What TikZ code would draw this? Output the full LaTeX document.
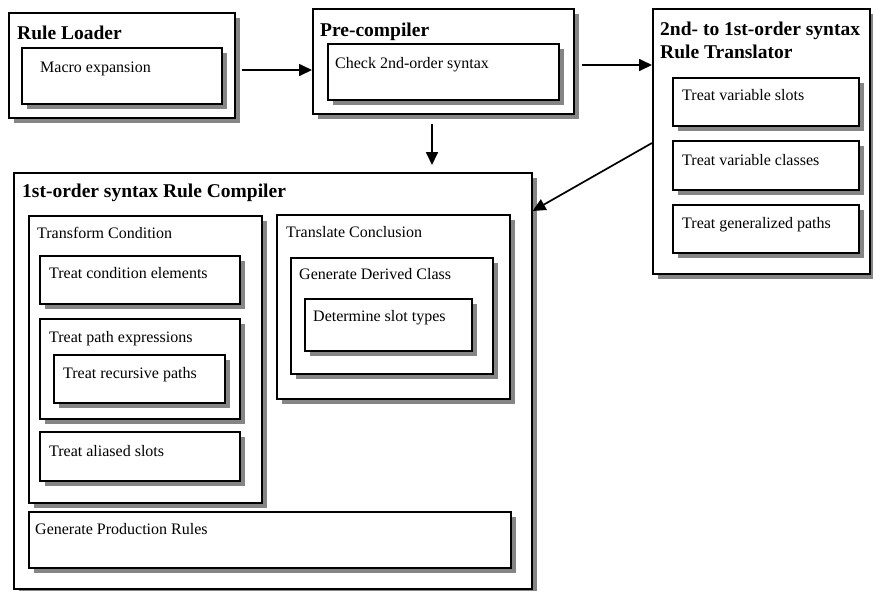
\documentclass[tikz,border=0pt]{standalone}
\usepackage{fontspec}
\setmainfont{Liberation Serif}
\usetikzlibrary{arrows.meta,shadows,calc}
\tikzset{
  box/.style={draw, line width=1.6pt, fill=white, anchor=north west, inner sep=0pt,
    general shadow={fill=black!48, shadow xshift=5pt, shadow yshift=-5pt}},
  lbl/.style={anchor=base west, inner sep=0pt, font=\fontsize{16}{18}\selectfont},
  ttl/.style={anchor=base west, inner sep=0pt, font=\fontsize{19.5}{22}\selectfont\bfseries},
  arr/.style={line width=1.7pt, -{Triangle[length=13pt,width=12pt]}}
}
\newcommand{\bx}[5]{\node[box, minimum width=#4pt, minimum height=#5pt] (#1) at (#2,#3) {};}
\begin{document}
\begin{tikzpicture}[x=1pt,y=-1pt]
\useasboundingbox (0,0) rectangle (873,590);
% top row
\bx{rl}{8}{12}{226}{105}
\bx{me}{21}{47}{200}{56}
\bx{pc}{312}{8}{261}{105}
\bx{ck}{327}{43}{231}{56}
\bx{tr}{652}{8}{217}{265}
\bx{tva}{672}{77}{186}{48}
\bx{tvb}{672}{140}{186}{49}
\bx{tvc}{672}{204}{186}{48}
% compiler
\bx{comp}{13}{172}{518}{416}
\bx{tc}{28}{215}{233}{287}
\bx{tce}{39}{255}{200}{48}
\bx{tpe}{39}{318}{200}{100}
\bx{trp}{53}{354}{171}{48}
\bx{tas}{39}{431}{200}{49}
\bx{tl}{276}{214}{233}{184}
\bx{gdc}{290}{257}{202}{116}
\bx{dst}{304}{298}{167}{52}
\bx{gpr}{28}{511}{482}{56}
% texts
\node[ttl] (trl) at (17,39) {Rule Loader};
\node[lbl] (tme) at (40,72) {Macro expansion};
\node[ttl] (tpc) at (320,36) {Pre-compiler};
\node[lbl] (tck) at (335,68) {Check 2nd-order syntax};
\node[ttl] (ttr1) at (660,35) {2nd- to 1st-order syntax};
\node[ttl] (ttr2) at (660,58) {Rule Translator};
\node[lbl] (ttva) at (682,100) {Treat variable slots};
\node[lbl] (ttvb) at (682,165) {Treat variable classes};
\node[lbl] (ttvc) at (682,228) {Treat generalized paths};
\node[ttl] (tcomp) at (22,197) {1st-order syntax Rule Compiler};
\node[lbl] (ttc) at (37,238) {Transform Condition};
\node[lbl] (ttce) at (49,278) {Treat condition elements};
\node[lbl] (ttpe) at (49,342) {Treat path expressions};
\node[lbl] (ttrp) at (63,378) {Treat recursive paths};
\node[lbl] (ttas) at (49,456) {Treat aliased slots};
\node[lbl] (tgpr) at (35,534) {Generate Production Rules};
\node[lbl] (ttl) at (286,237) {Translate Conclusion};
\node[lbl] (tgdc) at (299,279) {Generate Derived Class};
\node[lbl] (tdst) at (313,321) {Determine slot types};
% connectors
\draw[arr] ([xshift=6pt]rl.east |- 0,70) -- (pc.west |- 0,70);
\draw[arr] ([xshift=7pt]pc.east |- 0,65) -- (tr.west |- 0,65);
\draw[arr] ([yshift=-9pt]pc.south -| 432,0) -- ([yshift=7pt]comp.north -| 432,0);
\draw[arr] (tr.west |- 0,143) -- (comp.east |- 0,211);
\end{tikzpicture}
\end{document}
